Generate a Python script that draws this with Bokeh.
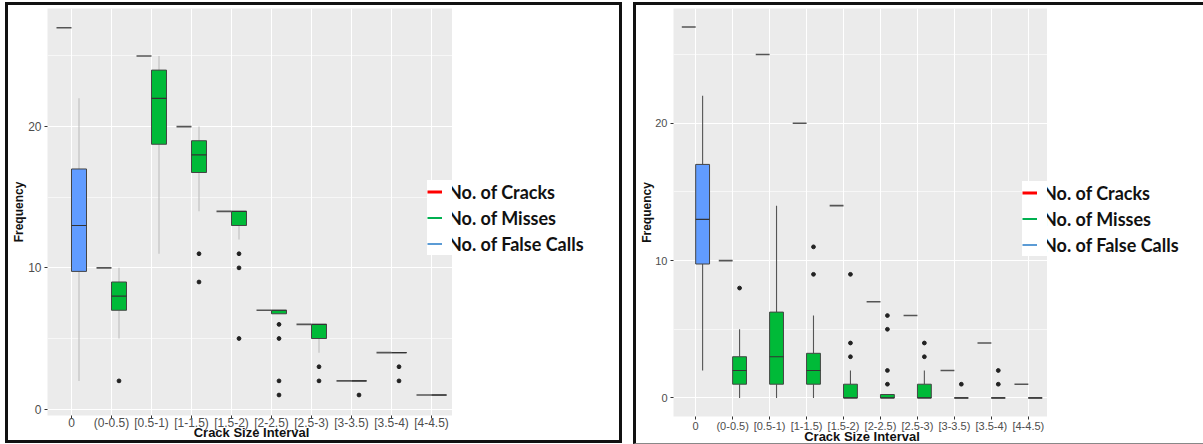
from bokeh.plotting import figure
from bokeh.models import ColumnDataSource, Range1d, FixedTicker, Legend, LegendItem
from bokeh.transform import dodge
from bokeh.layouts import row
from bokeh.embed import file_html
from bokeh.resources import INLINE

categories = ["0", "(0-0.5)", "[0.5-1)", "[1-1.5)", "[1.5-2)", "[2-2.5)",
              "[2.5-3)", "[3-3.5)", "[3.5-4)", "[4-4.5)"]
y_ticks = [0, 10, 20]
y_minor_ticks = [5, 15, 25]
legend_labels = ["No. of Cracks", "No. of Misses", "No. of False Calls"]
legend_colors = ["#FF0000", "#00B050", "#5B9BD5"]
box_colors = ["#619CFF"] + ["#00BA38"] * 9

# ---- left panel ----
cracks_left = [27, 10, 25, 20, 14, 7, 6, 2, 4, 1]
low_left = [2, 5, 11, 14, 12, 6.75, 4, 2, 4, 1]
q1_left = [9.75, 7, 18.75, 16.75, 13, 6.75, 5, 2, 4, 1]
med_left = [13, 8, 22, 18, 14, 7, 6, 2, 4, 1]
q3_left = [17, 9, 24, 19, 14, 7, 6, 2, 4, 1]
high_left = [22, 10, 25, 20, 14, 7, 6, 2, 4, 1]
out_cat_left = ["(0-0.5)", "[1-1.5)", "[1-1.5)", "[1.5-2)", "[1.5-2)", "[1.5-2)",
                "[2-2.5)", "[2-2.5)", "[2-2.5)", "[2-2.5)", "[2.5-3)", "[2.5-3)",
                "[3-3.5)", "[3.5-4)", "[3.5-4)"]
out_val_left = [2, 11, 9, 11, 10, 5, 6, 5, 2, 1, 3, 2, 1, 3, 2]

# ---- right panel ----
cracks_right = [27, 10, 25, 20, 14, 7, 6, 2, 4, 1]
low_right = [2, 0, 0, 0, 0, 0, 0, 0, 0, 0]
q1_right = [9.75, 1, 1, 1, 0, 0, 0, 0, 0, 0]
med_right = [13, 2, 3, 2, 0, 0, 0, 0, 0, 0]
q3_right = [17, 3, 6.25, 3.25, 1, 0.25, 1, 0, 0, 0]
high_right = [22, 5, 14, 6, 2, 0.25, 2, 0, 0, 0]
out_cat_right = ["(0-0.5)", "[1-1.5)", "[1-1.5)", "[1.5-2)", "[1.5-2)", "[1.5-2)",
                 "[2-2.5)", "[2-2.5)", "[2-2.5)", "[2-2.5)", "[2.5-3)", "[2.5-3)",
                 "[3-3.5)", "[3.5-4)", "[3.5-4)"]
out_val_right = [8, 11, 9, 3, 4, 9, 6, 5, 2, 1, 3, 4, 1, 1, 2]

PAD = 0.6  # ggplot-style discrete axis expansion
NAN = float("nan")
BORDER = "3px solid #111111"


def add_legend(p, labels, xy):
    items = []
    for lab, col, lw in zip(labels, legend_colors, [3, 2, 2]):
        r = p.line(x=[NAN, NAN], y=[NAN, NAN], line_color=col, line_width=lw)
        items.append(LegendItem(label=lab, renderers=[r]))
    leg = Legend(items=items, location=xy, background_fill_color="white",
                 background_fill_alpha=1, border_line_color=None, padding=4, spacing=3,
                 margin=0, glyph_width=15, glyph_height=23, label_height=23,
                 label_standoff=6, label_text_font="Lato", label_text_font_style="bold",
                 label_text_font_size="18px", label_text_color="#111111")
    p.add_layout(leg, "center")


def make_panel(cracks, low, q1, med, q3, high, out_cat, out_val, yr, width, height,
               mb_left, mb_bottom, whisker_color, legend_xy, margin, styles,
               tick_standoff, tick_size, ylab_standoff, xlab_standoff):
    n = len(categories)
    p = figure(x_range=Range1d(-PAD, n - 1 + PAD), y_range=Range1d(*yr),
               width=width, height=height,
               output_backend="svg", toolbar_location=None,
               min_border_left=mb_left, min_border_right=0,
               min_border_top=3, min_border_bottom=mb_bottom)
    p.margin = margin
    p.styles = styles
    xs = list(range(n))
    src = ColumnDataSource(dict(x=xs, cracks=cracks, low=low, q1=q1, med=med,
                                q3=q3, high=high, color=box_colors))
    osrc = ColumnDataSource(dict(x=[categories.index(c) for c in out_cat], val=out_val))
    xr = dodge("x", 0.1875)
    xl = dodge("x", -0.1875)

    p.segment(x0=xr, x1=xr, y0="q3", y1="high", source=src, line_color=whisker_color, line_width=1.1)
    p.segment(x0=xr, x1=xr, y0="low", y1="q1", source=src, line_color=whisker_color, line_width=1.1)
    p.vbar(x=xr, width=0.375, top="q3", bottom="q1", source=src, fill_color="color",
           line_color="#444444", line_width=1)
    p.vbar(x=xr, width=0.375, top="med", bottom="med", source=src, fill_color=None,
           line_color="#333333", line_width=1.2)
    p.vbar(x=xl, width=0.375, top="cracks", bottom="cracks", source=src, fill_color=None,
           line_color="#555555", line_width=1.6)
    p.scatter(x=xr, y="val", source=osrc, size=3.8, color="#222222")

    # legend glyph part that overlaps the panel (labels continue in the side figure)
    add_legend(p, [" ", " ", " "], legend_xy)

    p.background_fill_color = "#EBEBEB"
    p.border_fill_color = "white"
    p.outline_line_color = None
    p.xaxis.ticker = FixedTicker(ticks=xs)
    p.xaxis.major_label_overrides = {i: c for i, c in enumerate(categories)}
    p.yaxis.ticker = FixedTicker(ticks=y_ticks, minor_ticks=y_minor_ticks)
    p.xgrid.grid_line_color = "white"
    p.xgrid.grid_line_width = 1.1
    p.ygrid.grid_line_color = "white"
    p.ygrid.grid_line_width = 1.2
    p.ygrid.minor_grid_line_color = "white"
    p.ygrid.minor_grid_line_width = 0.6
    p.axis.axis_line_color = None
    p.axis.major_tick_line_color = "#333333"
    p.axis.major_tick_in = 0
    p.axis.major_tick_out = 3
    p.axis.minor_tick_line_color = None
    p.axis.major_label_text_font = "Liberation Sans"
    p.axis.major_label_text_font_size = tick_size
    p.axis.major_label_text_color = "#4D4D4D"
    p.xaxis.major_label_standoff = tick_standoff
    p.yaxis.major_label_standoff = 2
    p.axis.axis_label_text_font = "Liberation Sans"
    p.axis.axis_label_text_font_style = "bold"
    p.axis.axis_label_text_color = "#111111"
    p.yaxis.axis_label = "Frequency"
    p.yaxis.axis_label_text_font_size = "12px"
    p.yaxis.axis_label_standoff = ylab_standoff
    p.xaxis.axis_label = "Crack Size Interval"
    p.xaxis.axis_label_text_font_size = "13px"
    p.xaxis.axis_label_standoff = xlab_standoff
    return p


def make_side(width, height, legend_xy, styles):
    s = figure(x_range=Range1d(0, 1), y_range=Range1d(0, 1), width=width, height=height,
               x_axis_type=None, y_axis_type=None, output_backend="svg",
               toolbar_location=None, min_border_left=0, min_border_right=0,
               min_border_top=0, min_border_bottom=0)
    s.margin = (2, 0, 0, 0)
    s.styles = styles
    s.background_fill_color = "white"
    s.border_fill_color = "white"
    s.outline_line_color = None
    add_legend(s, legend_labels, legend_xy)
    return s


a1 = make_panel(cracks_left, low_left, q1_left, med_left, q3_left, high_left,
                out_cat_left, out_val_left, (-0.45, 28.36), 447, 441, 39, 31,
                "#BDBDBD", (380, 160), (2, 0, 0, 5),
                {"border-top": BORDER, "border-left": BORDER, "border-bottom": BORDER},
                -3, "12px", -1, -8)
b1 = make_side(170, 441, (-25, 160),
               {"border-top": BORDER, "border-right": BORDER, "border-bottom": BORDER})

a2 = make_panel(cracks_right, low_right, q1_right, med_right, q3_right, high_right,
                out_cat_right, out_val_right, (-1.35, 28.35), 414, 442, 37, 30,
                "#555555", (349, 160), (2, 0, 0, 11),
                {"border-top": BORDER, "border-left": BORDER,
                 "border-bottom": "1px solid #888888"}, 0, "11px", -2, -6)
b2 = make_side(156, 442, (-25, 160),
               {"border-top": BORDER, "border-bottom": "1px solid #888888"})

layout = row(a1, b1, a2, b2, spacing=0)
open("out.html", "w").write(file_html(layout, INLINE))
